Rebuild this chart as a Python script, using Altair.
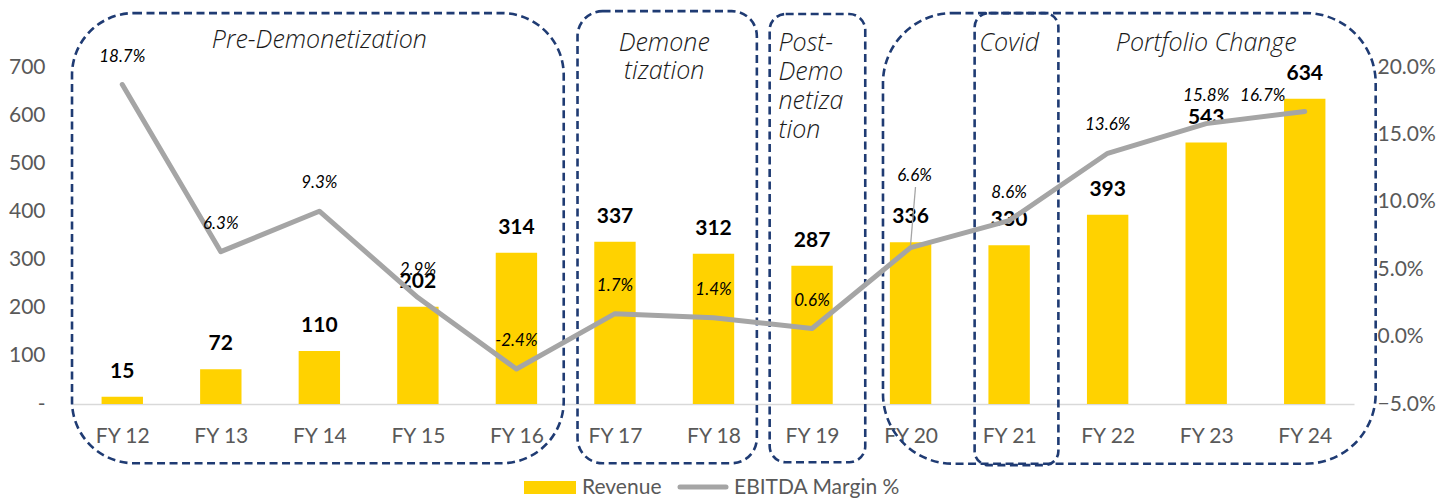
import json
import altair as alt
import pandas as pd

# ---------------- data ----------------
categories = ["FY 12", "FY 13", "FY 14", "FY 15", "FY 16", "FY 17", "FY 18",
              "FY 19", "FY 20", "FY 21", "FY 22", "FY 23", "FY 24"]
revenue = [15, 72, 110, 202, 314, 337, 312, 287, 336, 330, 393, 543, 634]
ebitda_margin = [0.187, 0.063, 0.093, 0.029, -0.024, 0.017, 0.014, 0.006,
                 0.066, 0.086, 0.136, 0.158, 0.167]
margin_labels = ["18.7%", "6.3%", "9.3%", "2.9%", "-2.4%", "1.7%", "1.4%",
                 "0.6%", "6.6%", "8.6%", "13.6%", "15.8%", "16.7%"]
left_ticks = [0, 100, 200, 300, 400, 500, 600, 700]
right_ticks = [-0.05, 0.0, 0.05, 0.10, 0.15, 0.20]

# phase annotations: boxes in (category-index, revenue-unit) coordinates
phase_boxes = [
    {"x0": -0.51, "x1": 4.48, "y0": -123, "y1": 812, "r": 62},
    {"x0": 4.62, "x1": 6.44, "y0": -123, "y1": 816, "r": 25},
    {"x0": 6.57, "x1": 7.54, "y0": -121, "y1": 810, "r": 16},
    {"x0": 7.72, "x1": 12.72, "y0": -124, "y1": 812, "r": 70},
    {"x0": 8.65, "x1": 9.50, "y0": -127, "y1": 812, "r": 14},
]
phase_titles = [
    {"t": "Pre-Demonetization", "x": 2.0, "y": 756, "a": "center"},
    {"t": "Demone", "x": 5.5, "y": 750, "a": "center"},
    {"t": "tization", "x": 5.5, "y": 692, "a": "center"},
    {"t": "Post-", "x": 6.66, "y": 750, "a": "left"},
    {"t": "Demo", "x": 6.66, "y": 690, "a": "left"},
    {"t": "netiza", "x": 6.66, "y": 629, "a": "left"},
    {"t": "tion", "x": 6.66, "y": 570, "a": "left"},
    {"t": "Covid", "x": 9.0, "y": 750, "a": "center"},
    {"t": "Portfolio Change", "x": 11.0, "y": 750, "a": "center"},
]

YELLOW = "#FFD200"
GREY = "#A5A5A5"
NAVY = "#1F3B73"
AXIS_GREY = "#595959"
BAR_HALF = 0.21

df = pd.DataFrame({
    "cat": categories,
    "idx": list(range(len(categories))),
    "rev": revenue,
    "margin": ebitda_margin,
    "mlabel": margin_labels,
})

x_scale = alt.Scale(domain=[-0.5, len(categories) - 0.5], nice=False, zero=False)
yl_scale = alt.Scale(domain=[0, 700], nice=False, zero=False)
yr_scale = alt.Scale(domain=[-0.05, 0.20], nice=False, zero=False)

x_axis = alt.Axis(
    values=list(range(len(categories))),
    labelExpr=f"{json.dumps(categories)}[datum.value]",
    title=None, grid=False, ticks=False,
    domainColor="#D9D9D9", domainWidth=1.5,
    labelFont="Lato", labelFontSize=21, labelColor=AXIS_GREY, labelPadding=21,
)
yl_axis = alt.Axis(
    values=left_ticks, title=None, grid=False, ticks=False, domain=False,
    labelExpr="datum.value == 0 ? '-\u00a0\u00a0' : format(datum.value, 'd')",
    labelFont="Lato", labelFontSize=21, labelColor=AXIS_GREY, labelPadding=28,
)
yr_axis = alt.Axis(
    values=right_ticks, format=".1%", orient="right", title=None, grid=False,
    ticks=False, domain=False,
    labelFont="Lato", labelFontSize=21, labelColor=AXIS_GREY, labelPadding=23,
)


def X(field):
    return alt.X(field, scale=x_scale, axis=x_axis)


def YL(field):
    return alt.Y(field, scale=yl_scale, axis=yl_axis)


def YR(field):
    return alt.Y(field, scale=yr_scale, axis=yr_axis)


base = alt.Chart(df)

bars = base.transform_calculate(
    x0=f"datum.idx - {BAR_HALF}", x1=f"datum.idx + {BAR_HALF}"
).mark_rect(color=YELLOW).encode(
    x=X("x0:Q"),
    x2="x1:Q",
    y=YL("rev:Q"),
    y2=alt.datum(0),
)

bar_text = base.mark_text(
    font="Lato", fontWeight="bold", fontSize=21, color="#000000",
    baseline="middle", dy=-25,
).encode(
    x=X("idx:Q"),
    y=YL("rev:Q"),
    text="rev:Q",
)

box_layers = []
for b in phase_boxes:
    box_layers.append(
        alt.Chart(pd.DataFrame([b])).mark_rect(
            fillOpacity=0, stroke=NAVY, strokeWidth=2.6, strokeDash=[8, 4.5],
            cornerRadius=b["r"],
        ).encode(
            x=X("x0:Q"),
            x2="x1:Q",
            y=YL("y0:Q"),
            y2="y1:Q",
        )
    )

titles_df = pd.DataFrame(phase_titles)
title_layers = []
for al in ["center", "left"]:
    title_layers.append(
        alt.Chart(titles_df).transform_filter(alt.datum.a == al).mark_text(
            font="Open Sans", fontStyle="italic", fontWeight=300, fontSize=25,
            color="#1A1A1A", align=al, baseline="middle",
        ).encode(
            x=X("x:Q"),
            y=YL("y:Q"),
            text="t:N",
        )
    )

# manual legend (pixel positions relative to the plot area)
one = pd.DataFrame({"k": [0]})
leg_rect = alt.Chart(one).mark_rect(color=YELLOW).encode(
    x=alt.value(451), x2=alt.value(503), y=alt.value(414), y2=alt.value(427)
)
leg_line = alt.Chart(one).mark_rule(color=GREY, strokeWidth=5, strokeCap="round").encode(
    x=alt.value(607), x2=alt.value(653), y=alt.value(420), y2=alt.value(420)
)
leg_font = dict(font="Lato", fontSize=21, color=AXIS_GREY, align="left", baseline="middle")
leg_text1 = alt.Chart(one).mark_text(text="Revenue", **leg_font).encode(
    x=alt.value(509), y=alt.value(421)
)
leg_text2 = alt.Chart(one).mark_text(text="EBITDA Margin %", **leg_font).encode(
    x=alt.value(661), y=alt.value(421)
)

left = alt.layer(bars, *box_layers, bar_text, *title_layers,
                 leg_rect, leg_line, leg_text1, leg_text2)

line = base.mark_line(color=GREY, strokeWidth=5, strokeCap="round", strokeJoin="round").encode(
    x=X("idx:Q"),
    y=YR("margin:Q"),
)

special = ["FY 20", "FY 24"]
pct_font = dict(font="Lato", fontStyle="italic", fontSize=17, color="#000000",
                baseline="middle")
line_text = base.transform_filter(
    f"indexof({json.dumps(special)}, datum.cat) < 0"
).mark_text(dy=-28, **pct_font).encode(
    x=X("idx:Q"),
    y=YR("margin:Q"),
    text="mlabel:N",
)
text_fy20 = base.transform_filter(alt.datum.cat == "FY 20").mark_text(
    dy=-72, dx=4, **pct_font
).encode(
    x=X("idx:Q"),
    y=YR("margin:Q"),
    text="mlabel:N",
)
text_fy24 = base.transform_filter(alt.datum.cat == "FY 24").mark_text(
    dy=-15, dx=-42, **pct_font
).encode(
    x=X("idx:Q"),
    y=YR("margin:Q"),
    text="mlabel:N",
)
leader = alt.Chart(pd.DataFrame({"xa": [8.05], "ya": [0.111], "xb": [8.0], "yb": [0.068]})).mark_rule(
    color=GREY, strokeWidth=1.3
).encode(
    x=X("xa:Q"),
    x2="xb:Q",
    y=YR("ya:Q"),
    y2="yb:Q",
)

right = alt.layer(line, leader, line_text, text_fy20, text_fy24)

chart = alt.layer(left, right).resolve_scale(y="independent").properties(
    width=1281, height=337,
    autosize=alt.AutoSizeParams(type="none"),
    padding={"left": 65, "top": 59, "right": 90, "bottom": 110},
).configure_view(stroke=None)

chart.save("out.html", embed_options={"renderer": "svg", "actions": False})
